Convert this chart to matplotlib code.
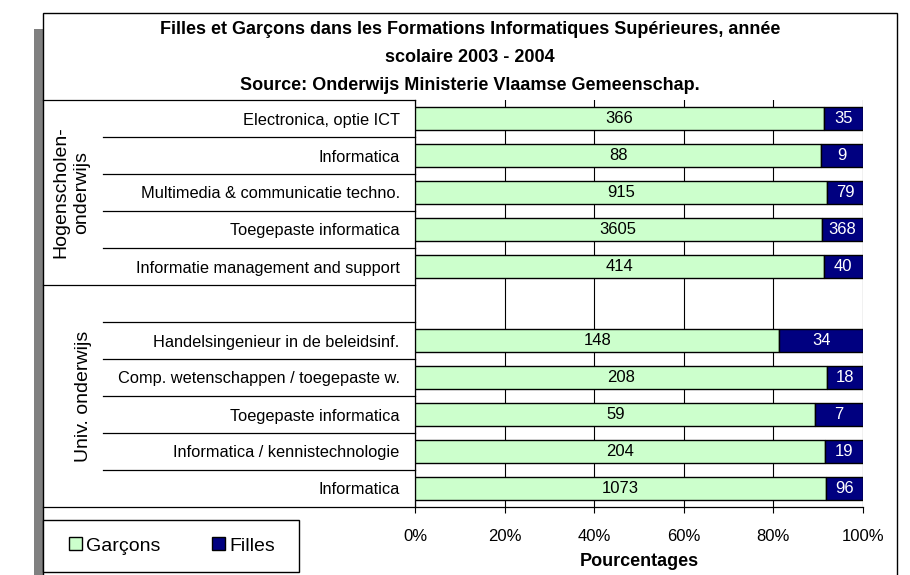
import matplotlib
matplotlib.use('Agg')
import matplotlib.pyplot as plt
from matplotlib.patches import Rectangle
from matplotlib.lines import Line2D
from matplotlib.transforms import blended_transform_factory

plt.rcParams['font.family'] = ['Liberation Sans', 'DejaVu Sans']

# data, top to bottom (None = empty row between the two groups)
categories = ['Electronica, optie ICT', 'Informatica',
              'Multimedia & communicatie techno.', 'Toegepaste informatica',
              'Informatie management and support', None,
              'Handelsingenieur in de beleidsinf.',
              'Comp. wetenschappen / toegepaste w.', 'Toegepaste informatica',
              'Informatica / kennistechnologie', 'Informatica']
garcons = [366, 88, 915, 3605, 414, None, 148, 208, 59, 204, 1073]
filles = [35, 9, 79, 368, 40, None, 34, 18, 7, 19, 96]
groups = ['Hogenscholen-\nonderwijs', 'Univ. onderwijs']
group_rows = [(0, 4), (5, 10)]

GREEN = '#CCFFCC'
NAVY = '#000080'
W, H = 910, 575


def fx(px):
    return px / W


def fy(py):
    return 1 - py / H


fig = plt.figure(figsize=(9.1, 5.75), dpi=100)

# shadow + outer frame
fig.patches.append(Rectangle((fx(34), 0), fx(9), fy(29), transform=fig.transFigure,
                             facecolor='#808080', edgecolor='none', zorder=-2))
fig.patches.append(Rectangle((fx(43), fy(576)), fx(897 - 43), fy(13) - fy(576),
                             transform=fig.transFigure, facecolor='white',
                             edgecolor='black', linewidth=1.0, zorder=-1))

ax = fig.add_axes([fx(415), fy(507), fx(863 - 415), fy(100) - fy(507)])
ax.patch.set_alpha(0)

rows = [i for i, c in enumerate(categories) if c is not None]
g = [garcons[i] for i in rows]
f = [filles[i] for i in rows]
tot = [a + b for a, b in zip(g, f)]
pg = [a / t * 100 for a, t in zip(g, tot)]
pf = [b / t * 100 for b, t in zip(f, tot)]

bh = 0.62
b1 = ax.barh(rows, pg, height=bh, color=GREEN, edgecolor='black', linewidth=1.0,
             label='Garçons', zorder=3)
b2 = ax.barh(rows, pf, left=pg, height=bh, color=NAVY, edgecolor='black',
             linewidth=1.0, label='Filles', zorder=3)
ax.bar_label(b1, labels=[str(v) for v in g], label_type='center', fontsize=12,
             color='black')
ax.bar_label(b2, labels=[str(v) for v in f], label_type='center', fontsize=12,
             color='white')

ax.set_xlim(0, 100)
ax.set_ylim(len(categories) - 0.5, -0.5)
ax.set_xticks(range(0, 101, 20))
ax.set_xticklabels([f'{v}%' for v in range(0, 101, 20)], fontsize=12)
ax.tick_params(axis='x', length=4, width=0.8, pad=12)
ax.set_yticks(rows)
ax.set_yticklabels([categories[i] for i in rows], fontsize=11.8)
ax.tick_params(axis='y', length=0, pad=11)
ax.grid(axis='x', color='black', linewidth=0.8, zorder=0)
ax.set_axisbelow(True)
for s in ['top', 'right']:
    ax.spines[s].set_visible(False)
ax.spines['left'].set_linewidth(0.9)
ax.spines['bottom'].set_linewidth(0.9)
ax.set_xlabel('Pourcentages', fontsize=13, fontweight='bold', labelpad=6)

# label table lines (x in figure coords, y in data coords)
tr = blended_transform_factory(fig.transFigure, ax.transData)
n = len(categories)
for k in range(n + 1):
    yb = k - 0.5
    full = k in (0, 5, n)
    x0 = fx(43) if full else fx(103)
    fig.add_artist(Line2D([x0, fx(415)], [yb, yb], transform=tr, color='black',
                          linewidth=0.9))

# group labels
ax.text(fx(71), sum(group_rows[0]) / 2, groups[0], transform=tr, rotation=90,
        ha='center', va='center', fontsize=14, linespacing=1.3)
ax.text(fx(84), sum(group_rows[1]) / 2, groups[1], transform=tr, rotation=90,
        ha='center', va='center', fontsize=14)

# title
title_lines = ['Filles et Garçons dans les Formations Informatiques Supérieures, année',
               'scolaire 2003 - 2004',
               'Source: Onderwijs Ministerie Vlaamse Gemeenschap.']
for line, py in zip(title_lines, [30, 58, 86]):
    fig.text(fx(470), fy(py), line, ha='center', va='center', fontsize=13,
             fontweight='bold')

# legend
fig.patches.append(Rectangle((fx(43), fy(572)), fx(299 - 43), fy(520) - fy(572),
                             transform=fig.transFigure, facecolor='white',
                             edgecolor='black', linewidth=1.0, zorder=1))
fig.legend(handles=[b1, b2], loc='center left',
           bbox_to_anchor=(fx(69), fy(546)), ncol=2, frameon=False, fontsize=14,
           handlelength=0.65, handleheight=0.65, handletextpad=0.2,
           columnspacing=2.7, borderpad=0, borderaxespad=0)

plt.savefig('out.png', dpi=100)
